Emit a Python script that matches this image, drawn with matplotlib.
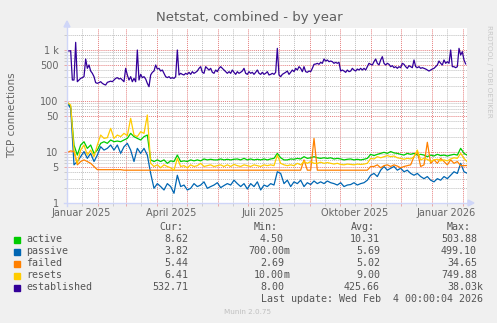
import datetime as dt

import matplotlib
matplotlib.use("Agg")
import matplotlib.pyplot as plt
import matplotlib.dates as mdates
import matplotlib.ticker as ticker
from matplotlib.lines import Line2D
from matplotlib.patches import Polygon, Rectangle
import numpy as np

W, H = 497, 323

BACK = '#F0F0F0'
FONT = '#666666'
AXIS = '#CFD6F8'
GRID = (0.75, 0.75, 0.75, 0.75)
MGRID = (0.90, 0.50, 0.50, 0.65)

# ---- data -------------------------------------------------------------
names = ['active', 'passive', 'failed', 'resets', 'established']
colors = ['#00CC00', '#0066B3', '#FF8000', '#FFCC00', '#330099']

t0 = dt.datetime(2025, 1, 1, 12)   # left edge of the graph, 400 days wide
t_end = t0 + dt.timedelta(days=400)

# established: one sample every 40 h
established = [
    970, 955, 970, 258, 258, 1413, 239, 258, 278, 287,
    300, 666, 437, 508, 387, 349, 300, 229, 222, 229,
    239, 222, 212, 206, 232, 239, 245, 239, 258, 278,
    287, 270, 278, 258, 239, 437, 324, 258, 300, 239,
    278, 239, 1000, 258, 333, 287, 300, 270, 222, 191,
    324, 365, 387, 508, 424, 437, 387, 405, 349, 300,
    287, 300, 278, 287, 278, 300, 1000, 324, 349, 333,
    324, 349, 333, 365, 333, 376, 349, 365, 387, 437,
    471, 365, 349, 471, 437, 405, 437, 365, 349, 405,
    376, 437, 471, 437, 405, 376, 349, 376, 349, 405,
    365, 333, 376, 349, 365, 387, 437, 349, 333, 376,
    349, 365, 333, 365, 405, 349, 333, 365, 333, 349,
    376, 324, 333, 349, 333, 365, 1078, 324, 300, 333,
    349, 365, 387, 333, 365, 405, 376, 437, 405, 471,
    437, 376, 471, 376, 365, 387, 376, 437, 524, 530,
    548, 524, 573, 548, 666, 608, 637, 590, 608, 590,
    548, 573, 548, 573, 387, 405, 387, 365, 405, 376,
    387, 437, 405, 387, 424, 405, 437, 405, 437, 405,
    471, 548, 524, 508, 590, 666, 548, 508, 637, 740,
    548, 508, 548, 524, 471, 493, 450, 471, 437, 471,
    450, 548, 524, 471, 437, 493, 471, 450, 637, 471,
    450, 471, 437, 450, 437, 424, 405, 387, 405, 424,
    437, 471, 508, 608, 548, 508, 637, 548, 590, 548,
    1000, 471, 471, 450, 471, 1078, 798, 927, 637, 533,
]

# the other four: one sample every 80 h
active = [
    94, 77, 13.7, 8.7, 13.7, 15.9, 11.8, 13.7, 9.4, 10.9,
    14.8, 15.9, 14.8, 17.2, 15.9, 16.4, 15.9, 17.2, 18.5, 23.2,
    20.0, 18.5, 17.2, 20.0, 21.5, 7.0, 6.5, 7.0, 6.5, 7.0,
    6.0, 6.7, 6.5, 8.7, 6.5, 6.7, 6.5, 7.0, 6.7, 7.0,
    6.7, 7.3, 7.0, 7.2, 7.0, 7.0, 7.3, 7.0, 7.2, 7.0,
    7.2, 7.3, 7.0, 7.5, 7.0, 7.3, 7.0, 7.2, 7.0, 7.3,
    7.0, 7.3, 7.5, 9.4, 7.7, 7.0, 7.0, 7.3, 7.2, 7.5,
    7.3, 8.1, 7.5, 7.7, 8.1, 7.7, 7.5, 7.7, 7.5, 7.7,
    7.3, 7.5, 7.3, 7.0, 7.2, 7.3, 7.0, 7.2, 7.0, 7.2,
    7.5, 9.0, 8.5, 9.0, 9.4, 9.85, 9.4, 10.2, 9.6, 9.4,
    9.0, 8.7, 9.4, 9.0, 9.4, 8.7, 9.0, 8.7, 8.1, 8.7,
    8.35, 9.0, 8.5, 8.7, 8.35, 8.7, 9.0, 8.7, 11.8, 9.4,
    8.62,
]
passive = [
    90, 71.8, 5.6, 6.5, 8.1, 10.2, 7.5, 9.4, 6.5, 8.7,
    12.7, 10.9, 11.8, 13.7, 10.9, 13.7, 9.4, 12.7, 14.8, 10.9,
    6.5, 11.8, 9.4, 11.8, 8.7, 3.8, 1.94, 2.4, 2.1, 1.8,
    2.4, 2.1, 1.55, 3.5, 2.1, 2.25, 1.8, 1.94, 2.4, 2.1,
    2.25, 2.6, 1.94, 2.1, 2.25, 2.5, 2.0, 2.2, 2.4, 2.25,
    2.8, 2.4, 2.1, 2.4, 1.88, 2.4, 2.1, 2.6, 1.8, 2.25,
    2.1, 2.4, 2.25, 4.1, 3.8, 2.4, 2.8, 2.1, 2.6, 2.4,
    2.8, 2.1, 2.5, 2.3, 2.7, 2.4, 2.6, 2.4, 2.7, 2.5,
    2.4, 2.25, 2.5, 2.1, 2.25, 2.3, 2.5, 2.25, 2.4, 2.5,
    2.8, 3.5, 3.8, 3.3, 4.4, 5.2, 4.4, 4.8, 5.2, 4.4,
    4.8, 4.1, 4.4, 3.8, 3.5, 3.8, 3.3, 3.0, 3.3, 2.8,
    2.6, 3.0, 2.8, 3.3, 3.0, 3.5, 4.1, 3.8, 6.0, 4.1,
    3.82,
]
failed = [
    9.85, 10.5, 10.2, 5.6, 6.5, 7.0, 6.5, 6.0, 5.2, 4.5,
    4.5, 4.5, 4.5, 4.5, 4.5, 4.5, 4.5, 4.4, 4.4, 4.4,
    4.4, 4.4, 4.4, 4.4, 4.4, 4.4, 4.4, 4.4, 4.4, 4.4,
    4.4, 4.4, 4.4, 4.4, 4.4, 4.4, 4.4, 4.4, 4.4, 4.4,
    4.4, 4.4, 4.4, 4.4, 4.4, 4.4, 4.4, 4.4, 4.4, 4.4,
    4.4, 4.4, 4.4, 4.4, 4.4, 4.4, 4.4, 4.4, 4.4, 4.4,
    4.4, 4.4, 4.4, 4.4, 4.4, 4.4, 4.4, 4.4, 4.4, 4.4,
    4.4, 7.0, 4.4, 4.4, 18.5, 4.4, 4.4, 4.4, 4.4, 4.4,
    4.4, 4.4, 4.4, 4.4, 4.4, 4.4, 4.4, 4.4, 4.4, 4.4,
    4.4, 5.2, 5.2, 5.6, 4.9, 5.4, 5.6, 5.2, 5.6, 5.3,
    4.9, 5.2, 5.4, 5.6, 8.1, 10.2, 5.2, 5.6, 15.5, 6.0,
    7.0, 6.0, 7.5, 6.5, 5.6, 7.0, 6.0, 6.5, 5.4, 5.4,
    5.44,
]
resets = [
    94, 83.5, 10.9, 6.0, 10.9, 13.7, 8.7, 10.9, 8.1, 13.7,
    21.5, 18.5, 19.1, 29.1, 18.5, 21.5, 20.0, 23.2, 20.9, 45.7,
    21.5, 20.0, 25.0, 23.2, 53.1, 6.0, 5.2, 5.6, 4.9, 5.6,
    5.2, 4.9, 4.4, 7.5, 5.2, 5.4, 4.9, 5.6, 5.2, 5.4,
    6.0, 5.2, 5.4, 5.6, 5.2, 5.4, 5.6, 5.2, 5.6, 5.2,
    5.7, 5.4, 5.2, 5.6, 5.4, 5.2, 5.6, 5.4, 5.2, 5.6,
    5.4, 5.6, 5.4, 8.7, 6.0, 5.6, 5.4, 5.6, 5.4, 6.0,
    5.6, 6.5, 6.0, 6.5, 6.0, 6.0, 6.3, 6.0, 6.2, 6.0,
    5.8, 6.0, 5.7, 5.6, 5.8, 5.7, 5.6, 5.8, 5.7, 5.8,
    6.0, 7.5, 7.3, 8.1, 7.7, 8.1, 8.5, 8.1, 8.35, 7.7,
    7.5, 7.2, 7.5, 7.3, 8.1, 10.9, 7.0, 7.5, 7.2, 6.5,
    7.0, 7.2, 6.7, 7.0, 6.7, 7.3, 7.7, 7.5, 9.4, 7.5,
    6.41,
]

cur_vals = ['8.62', '3.82', '5.44', '6.41', '532.71']
min_vals = ['4.50', '700.00m', '2.69', '10.00m', '8.00']
avg_vals = ['10.31', '5.69', '5.02', '9.00', '425.66']
max_vals = ['503.88', '499.10', '34.65', '749.88', '38.03k']

y_ticks = [1, 5, 10, 50, 100, 500, 1000]
y_ticklabels = ['1', '5', '10', '50', '100', '500', '1 k']
x_labels = ['Januar 2025', 'April 2025', 'Juli 2025', 'Oktober 2025', 'Januar 2026']


def sample_times(n, hours):
    start = t0 + dt.timedelta(hours=8)
    return [start + dt.timedelta(hours=hours * i) for i in range(n)]


# ---- figure -------------------------------------------------------------
def fx(x):
    return x / W


def fy(y):
    return 1 - y / H


fig = plt.figure(figsize=(W / 100, H / 100), dpi=100, facecolor=BACK)
ax = fig.add_axes([fx(67), fy(203), 400 / W, 175 / H])
ax.set_facecolor('white')
for sp in ax.spines.values():
    sp.set_visible(False)

ax.set_yscale('log')
ax.set_ylim(1, 2700)
ax.set_xlim(t0, t_end)

ax.yaxis.set_major_locator(ticker.FixedLocator(y_ticks))
ax.yaxis.set_major_formatter(ticker.FixedFormatter(y_ticklabels))
ax.yaxis.set_minor_locator(ticker.LogLocator(base=10, subs=(2, 3, 4, 6, 7, 8, 9)))
ax.yaxis.set_minor_formatter(ticker.NullFormatter())

ax.xaxis.set_major_locator(mdates.MonthLocator(bymonthday=1))
ax.xaxis.set_minor_locator(mdates.MonthLocator(bymonthday=16))
ax.xaxis.set_major_formatter(ticker.NullFormatter())

dots = (0, (1, 1))
ax.grid(which='minor', color=GRID, ls=dots, lw=0.7)
ax.grid(which='major', color=MGRID, ls=dots, lw=0.7)
ax.set_axisbelow(True)
ax.tick_params(which='major', length=2, width=0.7, color=MGRID,
               labelsize=7, labelcolor=FONT, pad=4)
ax.tick_params(which='minor', length=2, width=0.7, color=GRID)

# month labels sit on the middle of their month
for i, lab in enumerate(x_labels):
    d = dt.datetime(2025 + (i // 4), 1 + 3 * (i % 4), 16)
    ax.text(d, -0.06, lab, transform=ax.get_xaxis_transform(),
            ha='center', va='center', fontsize=7, color=FONT)

series = [active, passive, failed, resets]
for vals, col in zip(series, colors[:4]):
    ax.plot(sample_times(len(vals), 80), vals, color=col, lw=0.9)
ax.plot(sample_times(len(established), 40), established, color=colors[4], lw=0.9)

# axes with arrow heads
fig.add_artist(Line2D([fx(67), fx(67)], [fy(206), fy(26)], color=AXIS, lw=1))
fig.add_artist(Line2D([fx(64), fx(469)], [fy(203), fy(203)], color=AXIS, lw=1))
fig.add_artist(Polygon([(fx(64), fy(27)), (fx(70), fy(27)), (fx(67), fy(21))],
                       closed=True, color=AXIS, transform=fig.transFigure))
fig.add_artist(Polygon([(fx(468), fy(200)), (fx(468), fy(206)), (fx(474), fy(203))],
                       closed=True, color=AXIS, transform=fig.transFigure))

# titles
fig.text(fx(249), fy(18), 'Netstat, combined - by year', ha='center', va='center',
         fontsize=9.5, color='#5E5E5E')
fig.text(fx(12), fy(115), 'TCP connections', rotation=90, ha='center', va='center',
         fontsize=7.5, color=FONT)
fig.text(fx(489), fy(25), 'RRDTOOL / TOBI OETIKER', rotation=270, ha='center', va='top',
         fontsize=5.2, color='#C8C8C8')

# legend
mono = dict(family='DejaVu Sans Mono', fontsize=7.2, color='#555555', va='center')
fig.text(fx(159), fy(227), 'Cur:', ha='left', **mono)
fig.text(fx(254), fy(227), 'Min:', ha='left', **mono)
fig.text(fx(351), fy(227), 'Avg:', ha='left', **mono)
fig.text(fx(447), fy(227), 'Max:', ha='left', **mono)

col_right = [188, 284, 380, 477]
for i, name in enumerate(names):
    y = 239.5 + 12 * i
    fig.add_artist(Rectangle((fx(14), fy(y + 3)), 6 / W, 6 / H, color=colors[i],
                             transform=fig.transFigure))
    fig.text(fx(26), fy(y), name, ha='left', **mono)
    for xr, vals in zip(col_right, [cur_vals, min_vals, avg_vals, max_vals]):
        s = vals[i]
        suffix = s[-1] if s[-1].isalpha() else ''
        num = s[:-1] if suffix else s
        fig.text(fx(xr), fy(y), num, ha='right', **mono)
        if suffix:
            fig.text(fx(xr), fy(y), suffix, ha='left', **mono)

fig.text(fx(483), fy(299.5), 'Last update: Wed Feb  4 00:00:04 2026', ha='right', **mono)
fig.text(fx(248), fy(312), 'Munin 2.0.75', ha='center', va='center',
         fontsize=5.2, color='#C0C0C0')

fig.savefig('out.png', dpi=100, facecolor=BACK)
